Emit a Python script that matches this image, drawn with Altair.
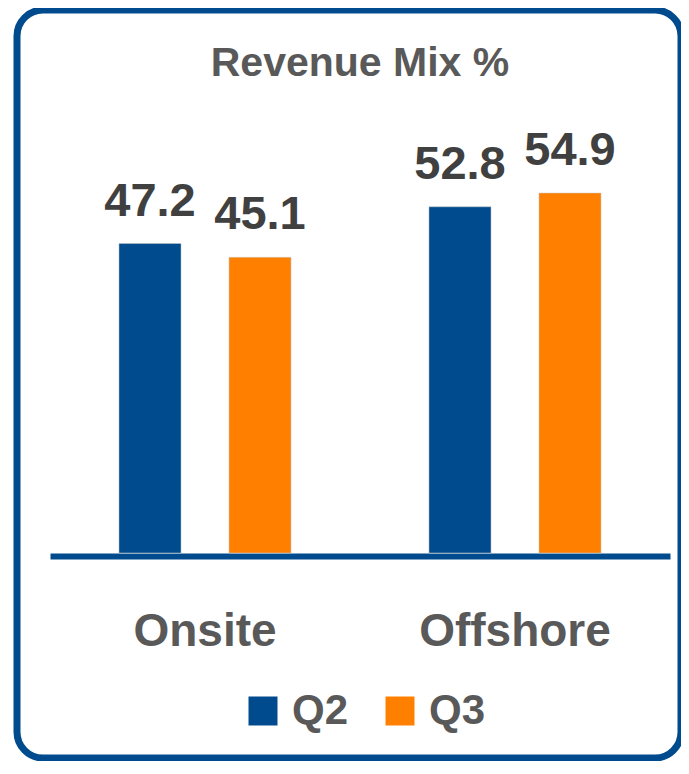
import altair as alt
import pandas as pd

# ---- data ----
categories = ["Onsite", "Offshore"]
quarters = ["Q2", "Q3"]
q2_values = [47.2, 52.8]
q3_values = [45.1, 54.9]

rows = []
for i, c in enumerate(categories):
    rows.append({"Category": c, "Quarter": quarters[0], "Value": q2_values[i]})
    rows.append({"Category": c, "Quarter": quarters[1], "Value": q3_values[i]})
df = pd.DataFrame(rows)

BLUE = "#004B8D"
ORANGE = "#FF8000"
FONT = "Liberation Sans, Arial, sans-serif"
W, H = 664, 748

x_enc = alt.X(
    "Category:N",
    sort=categories,
    title=None,
    scale=alt.Scale(range=[33, 653], paddingInner=0, paddingOuter=0),
    axis=alt.Axis(
        orient="bottom", offset=-202, domainColor=BLUE, domainWidth=6,
        ticks=False, tickSize=0, labelAngle=0, labelFont=FONT,
        labelFontSize=46, labelFontWeight="bold", labelColor="#595959",
        labelBaseline="alphabetic", labelPadding=89, labelLimit=0, grid=False,
    ),
)
xoff = alt.XOffset(
    "Quarter:N", sort=quarters,
    scale=alt.Scale(paddingInner=0.436, paddingOuter=0.627),
)
y_enc = alt.Y(
    "Value:Q",
    scale=alt.Scale(domain=[-31.26, 82.81], nice=False, zero=False),
    axis=None,
)

base = alt.Chart(df)

bars = base.mark_bar(stroke="#c8c8c8", strokeWidth=0.5).encode(
    x=x_enc,
    xOffset=xoff,
    y=y_enc,
    y2=alt.datum(0),
    color=alt.Color(
        "Quarter:N",
        sort=quarters,
        scale=alt.Scale(domain=quarters, range=[BLUE, ORANGE]),
        legend=alt.Legend(
            orient="none", legendX=225, legendY=680, direction="horizontal",
            title=None, symbolType="square", symbolSize=841,
            symbolStrokeWidth=0, symbolOpacity=1,
            labelFont=FONT, labelFontSize=42, labelFontWeight="bold",
            labelColor="#595959", labelOffset=8, columnPadding=30, padding=0,
        ),
    ),
)

labels = base.mark_text(
    dy=-28, baseline="alphabetic", font=FONT, fontSize=47,
    fontWeight="bold", color="#404040",
).encode(
    x=x_enc,
    xOffset=xoff,
    y=y_enc,
    text=alt.Text("Value:Q", format=".1f"),
)

chart = alt.layer(bars, labels).properties(
    width=W,
    height=H,
    title=alt.TitleParams(
        "Revenue Mix %", font=FONT, fontSize=41, fontWeight="bold",
        color="#595959", anchor="middle", offset=-107, baseline="alphabetic",
        dx=11,
    ),
    autosize=alt.AutoSizeParams(type="none"),
    padding={"left": 9, "top": 2, "right": 0, "bottom": 3},
).configure_view(
    stroke=BLUE, strokeWidth=7, cornerRadius=26, fill="white",
)

chart.save("out.html", embed_options={"renderer": "svg", "actions": False})
